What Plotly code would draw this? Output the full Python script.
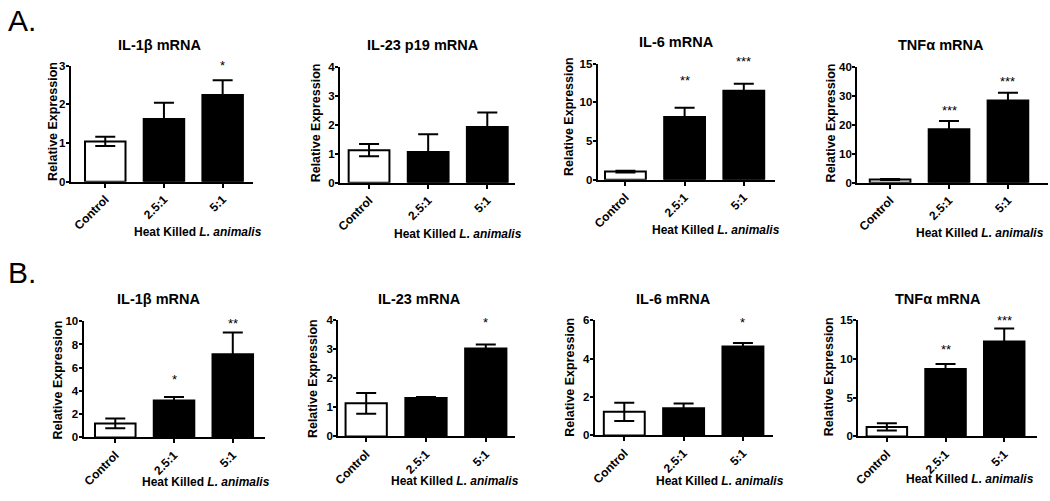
import plotly.graph_objects as go

W, H = 1050, 501

# ---------------- data ----------------
categories = ["Control", "2.5:1", "5:1"]

titles_a = ["IL-1β mRNA", "IL-23 p19 mRNA", "IL-6 mRNA", "TNFα mRNA"]
titles_b = ["IL-1β mRNA", "IL-23 mRNA", "IL-6 mRNA", "TNFα mRNA"]

a_il1b_mean = [1.04, 1.62, 2.24]
a_il1b_sem = [0.12, 0.42, 0.38]
a_il1b_sig = ["", "", "*"]
a_il1b_sig_y = [None, None, 3.09]

a_il23_mean = [1.12, 1.06, 1.92]
a_il23_sem = [0.21, 0.61, 0.50]
a_il23_sig = ["", "", ""]
a_il23_sig_y = [None, None, None]

a_il6_mean = [1.05, 8.10, 11.50]
a_il6_sem = [0.10, 1.20, 0.90]
a_il6_sig = ["", "**", "***"]
a_il6_sig_y = [None, 13.2, 15.7]

a_tnf_mean = [1.10, 18.40, 28.30]
a_tnf_sem = [0.20, 2.80, 2.70]
a_tnf_sig = ["", "***", "***"]
a_tnf_sig_y = [None, 25.9, 36.0]

b_il1b_mean = [1.20, 3.18, 7.17]
b_il1b_sem = [0.42, 0.30, 1.86]
b_il1b_sig = ["", "*", "**"]
b_il1b_sig_y = [None, 5.28, 10.1]

b_il23_mean = [1.14, 1.32, 3.03]
b_il23_sem = [0.36, 0.04, 0.14]
b_il23_sig = ["", "", "*"]
b_il23_sig_y = [None, None, 4.03]

b_il6_mean = [1.23, 1.42, 4.63]
b_il6_sem = [0.48, 0.24, 0.19]
b_il6_sig = ["", "", "*"]
b_il6_sig_y = [None, None, 6.05]

b_tnf_mean = [1.23, 8.71, 12.27]
b_tnf_sem = [0.46, 0.63, 1.68]
b_tnf_sig = ["", "**", "***"]
b_tnf_sig_y = [None, 11.66, 15.3]

y_max = [3, 4, 15, 40, 10, 4, 6, 15]
y_dtick = [1, 1, 5, 10, 2, 1, 2, 5]

panel_data = [
    (titles_a[0], a_il1b_mean, a_il1b_sem, a_il1b_sig, a_il1b_sig_y),
    (titles_a[1], a_il23_mean, a_il23_sem, a_il23_sig, a_il23_sig_y),
    (titles_a[2], a_il6_mean, a_il6_sem, a_il6_sig, a_il6_sig_y),
    (titles_a[3], a_tnf_mean, a_tnf_sem, a_tnf_sig, a_tnf_sig_y),
    (titles_b[0], b_il1b_mean, b_il1b_sem, b_il1b_sig, b_il1b_sig_y),
    (titles_b[1], b_il23_mean, b_il23_sem, b_il23_sig, b_il23_sig_y),
    (titles_b[2], b_il6_mean, b_il6_sem, b_il6_sig, b_il6_sig_y),
    (titles_b[3], b_tnf_mean, b_tnf_sem, b_tnf_sig, b_tnf_sig_y),
]

# ---------------- layout (pixel geometry) ----------------
geom = [
    dict(x=(65, 248), xr=(-0.59, 2.51), y=(61, 180), t=(154, 40), yl=(47, 118), xl=(127, 232)),
    dict(x=(336, 512), xr=(-0.49, 2.47), y=(62, 181), t=(419, 40), yl=(312, 120), xl=(388, 234)),
    dict(x=(595, 773), xr=(-0.47, 2.52), y=(59, 178), t=(674, 37), yl=(567, 113), xl=(648, 230)),
    dict(x=(856, 1048), xr=(-0.56, 2.68), y=(62, 181), t=(940, 40), yl=(830, 120), xl=(913, 233)),
    dict(x=(78, 260), xr=(-0.54, 2.54), y=(323, 442), t=(153, 300), yl=(52, 383), xl=(135, 488)),
    dict(x=(334, 512), xr=(-0.47, 2.49), y=(322, 441), t=(416, 300), yl=(309, 382), xl=(385, 487)),
    dict(x=(592, 771), xr=(-0.50, 2.50), y=(322, 440), t=(671, 300), yl=(567, 380), xl=(652, 487)),
    dict(x=(857, 1037), xr=(-0.49, 2.56), y=(322, 441), t=(937, 300), yl=(828, 380), xl=(903, 485)),
]

FONT = "Liberation Sans, Arial, sans-serif"
bar_colors = ["white", "black", "black"]

fig = go.Figure()
annotations = []
layout = dict(
    width=W, height=H,
    margin=dict(l=0, r=0, t=0, b=0),
    paper_bgcolor="white", plot_bgcolor="white",
    showlegend=False,
    font=dict(family=FONT, color="black"),
)

for i, ((title, mean, sem, sig, sig_y), g) in enumerate(zip(panel_data, geom)):
    n = i + 1
    xa = "x" if n == 1 else f"x{n}"
    ya = "y" if n == 1 else f"y{n}"
    fig.add_trace(go.Bar(
        x=categories, y=mean, xaxis=xa, yaxis=ya,
        width=0.69,
        marker=dict(color=bar_colors, line=dict(color="black", width=2)),
        error_y=dict(type="data", array=sem, symmetric=True, color="black",
                     thickness=2, width=10),
        cliponaxis=False,
    ))
    layout[f"xaxis{'' if n == 1 else n}"] = dict(
        domain=[g["x"][0] / W, g["x"][1] / W],
        anchor=ya, type="category",
        range=list(g["xr"]),
        showline=True, linecolor="black", linewidth=2,
        ticks="outside", ticklen=4, tickwidth=2, tickcolor="black",
        tickangle=-45,
        tickfont=dict(family=FONT, size=12, color="black", weight="bold"),
        showgrid=False, zeroline=False, fixedrange=True,
    )
    layout[f"yaxis{'' if n == 1 else n}"] = dict(
        domain=[1 - g["y"][1] / H, 1 - g["y"][0] / H],
        anchor=xa,
        range=[0, y_max[i]], dtick=y_dtick[i],
        showline=True, linecolor="black", linewidth=2,
        ticks="outside", ticklen=3, tickwidth=2, tickcolor="black",
        ticklabelstandoff=-2,
        tickfont=dict(family=FONT, size=11.5, color="black", weight="bold"),
        showgrid=False, zeroline=False, fixedrange=True,
    )
    annotations.append(dict(
        text=f"<b>{title}</b>", x=g["t"][0] / W, y=1 - g["t"][1] / H,
        xref="paper", yref="paper", xanchor="center", yanchor="middle",
        showarrow=False, font=dict(family=FONT, size=14.5, color="black"),
    ))
    annotations.append(dict(
        text="<b>Relative Expression</b>", x=g["yl"][0] / W, y=1 - g["yl"][1] / H,
        xref="paper", yref="paper", xanchor="center", yanchor="middle",
        textangle=-90, showarrow=False,
        font=dict(family=FONT, size=12.5, color="black"),
    ))
    annotations.append(dict(
        text="<b>Heat Killed <i>L. animalis</i></b>", x=g["xl"][0] / W, y=1 - g["xl"][1] / H,
        xref="paper", yref="paper", xanchor="left", yanchor="middle",
        showarrow=False, font=dict(family=FONT, size=12, color="black"),
    ))
    # significance stars (positioned on the panel's y scale, may sit above the axis top)
    for c, s, sy in zip(categories, sig, sig_y):
        if s:
            annotations.append(dict(
                text=s, x=c, y=sy / y_max[i], xref=xa, yref=f"{ya} domain",
                xanchor="center", yanchor="middle", yshift=-3,
                showarrow=False, font=dict(family=FONT, size=13, color="black"),
            ))

annotations.append(dict(text="A.", x=0, y=1 - 15 / H, xref="paper", yref="paper",
                        xanchor="left", yanchor="middle", showarrow=False,
                        font=dict(family=FONT, size=30, color="black")))
annotations.append(dict(text="B.", x=0, y=1 - 273 / H, xref="paper", yref="paper",
                        xanchor="left", yanchor="middle", showarrow=False,
                        font=dict(family=FONT, size=30, color="black")))

layout["annotations"] = annotations
fig.update_layout(**layout)
fig.write_html("out.html", config={"displayModeBar": False},
               post_script="document.body.style.margin='0px';")
